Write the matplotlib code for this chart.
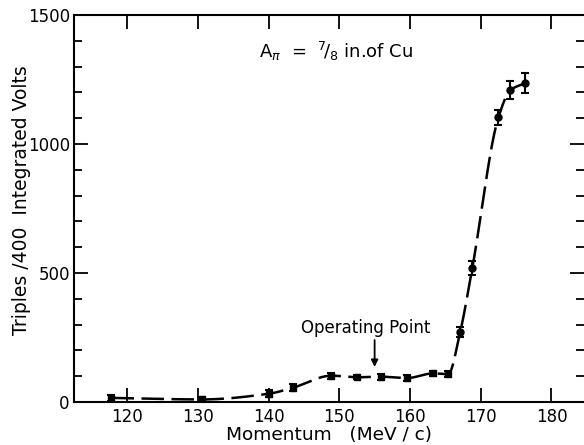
import numpy as np
import matplotlib
matplotlib.use("Agg")
import matplotlib.pyplot as plt

# Data
momentum = [117.8, 130.6, 140.0, 143.4, 148.9, 152.5, 155.9, 159.6, 163.3, 165.4, 167.1, 168.8, 172.5, 174.2, 176.2]
triples = [16, 10, 32, 55, 102, 96, 98, 93, 111, 108, 272, 518, 1103, 1209, 1235]
errors = [12, 10, 14, 14, 12, 8, 12, 10, 10, 12, 20, 27, 29, 35, 39]
circle_from = 10  # index from which markers are round

x_ticks = [120, 130, 140, 150, 160, 170, 180]
y_ticks = [0, 500, 1000, 1500]


def pchip(x, y, xs):
    x = np.asarray(x, float)
    y = np.asarray(y, float)
    h = np.diff(x)
    d = np.diff(y) / h
    n = len(x)
    m = np.zeros(n)
    for k in range(1, n - 1):
        if d[k - 1] * d[k] > 0:
            w1 = 2 * h[k] + h[k - 1]
            w2 = h[k] + 2 * h[k - 1]
            m[k] = (w1 + w2) / (w1 / d[k - 1] + w2 / d[k])
    m[0] = d[0]
    m[-1] = d[-1]
    out = np.empty_like(xs)
    idx = np.clip(np.searchsorted(x, xs) - 1, 0, n - 2)
    for i, xv in enumerate(xs):
        k = idx[i]
        t = (xv - x[k]) / h[k]
        h00 = 2 * t**3 - 3 * t**2 + 1
        h10 = t**3 - 2 * t**2 + t
        h01 = -2 * t**3 + 3 * t**2
        h11 = t**3 - t**2
        out[i] = h00 * y[k] + h10 * h[k] * m[k] + h01 * y[k + 1] + h11 * h[k] * m[k + 1]
    return out


fig = plt.figure(figsize=(5.84, 4.45), dpi=100)
ax = fig.add_axes([0.1267, 0.0966, 0.8733, 0.8697])

xs = np.linspace(momentum[0], momentum[-1], 600)
ys = pchip(momentum, triples, xs)
ax.plot(xs, ys, color="black", lw=1.8, dashes=(9, 3))

mx = np.array(momentum)
my = np.array(triples)
me = np.array(errors)
ax.errorbar(mx[:circle_from], my[:circle_from], yerr=me[:circle_from], fmt="s",
            color="black", ms=5, capsize=3, elinewidth=1.5, capthick=1.5)
ax.errorbar(mx[circle_from:], my[circle_from:], yerr=me[circle_from:], fmt="o",
            color="black", ms=5, capsize=3, elinewidth=1.5, capthick=1.5)

ax.set_xlim(112.5, 184.6)
ax.set_ylim(0, 1500)
ax.set_xticks(x_ticks)
ax.set_yticks(y_ticks)
ax.set_yticks(np.arange(0, 1501, 100), minor=True)
ax.tick_params(axis="both", which="major", direction="in", length=10, width=1.3,
               top=True, right=True, labelsize=12)
ax.tick_params(axis="y", which="minor", direction="in", length=6, width=1.3,
               left=True, right=True)
ax.tick_params(axis="x", which="major", pad=4)
ax.tick_params(axis="y", which="major", pad=3)
for s in ["left", "bottom", "top"]:
    ax.spines[s].set_linewidth(1.5)
ax.spines["right"].set_visible(False)

ax.set_xlabel("Momentum   (MeV / c)", fontsize=13.3, labelpad=0)
fig.text(22 / 584, 1 - 200 / 445, "Triples /400  Integrated Volts", fontsize=13.5,
         rotation=90, ha="center", va="center")

ax.text(138.6, 1357, r"$\mathrm{A}_{\pi}$  =  $^{7}\!/_{8}$ in.of Cu", fontsize=13, ha="left", va="center")
ax.text(153.8, 287, "Operating Point", ha="center", va="center", fontsize=12)
ax.annotate("", xy=(155.0, 136), xytext=(155.0, 240),
            arrowprops=dict(arrowstyle="-|>", color="black", lw=1.3,
                            shrinkA=0, shrinkB=0, mutation_scale=10))

fig.savefig("out.png", dpi=100)
